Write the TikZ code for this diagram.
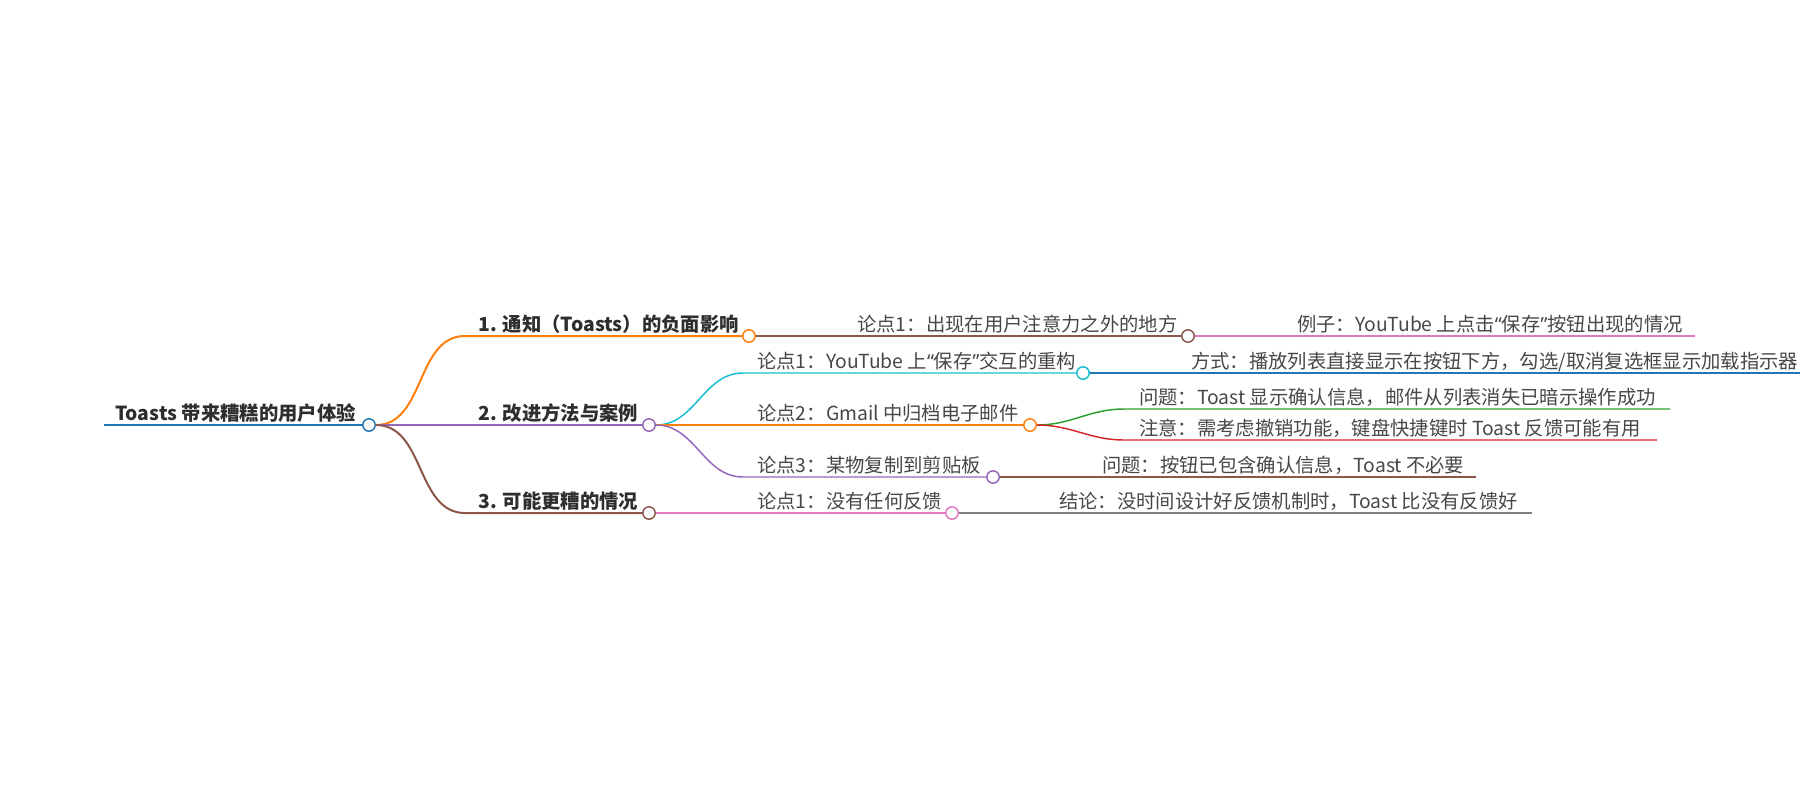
\documentclass[tikz,border=0pt]{standalone}
\usepackage{fontspec}
\setmainfont{Noto Sans CJK SC}
\newfontfamily\quotefont{Noto Sans}
\newcommand{\qopen}{{\quotefont “}}
\newcommand{\qclose}{{\quotefont ”}}
\definecolor{mmblue}{HTML}{1F77B4}
\definecolor{mmorange}{HTML}{FF7F0E}
\definecolor{mmgreen}{HTML}{2CA02C}
\definecolor{mmred}{HTML}{D62728}
\definecolor{mmpurple}{HTML}{9467BD}
\definecolor{mmbrown}{HTML}{8C564B}
\definecolor{mmpink}{HTML}{E377C2}
\definecolor{mmgray}{HTML}{7F7F7F}
\definecolor{mmcyan}{HTML}{17BECF}
\begin{document}
\begin{tikzpicture}[x=0.75pt,y=-0.75pt,
  topic/.style={anchor=base west,inner sep=0pt,font=\fontsize{14.5}{16}\selectfont,text=black!72},
  lead/.style={topic,font=\fontsize{14.5}{16}\selectfont\bfseries,text=black!82},
  dot/.style={circle,draw=#1,fill=white,line width=1.1pt,minimum size=9.3pt,inner sep=0pt},
  link/.style={line width=1.1pt}]
\useasboundingbox (0,0) rectangle (1800,800);
\clip (0,0) rectangle (1800,800);
% root
\coordinate (rootS) at (104,425);
\node[dot=mmblue] (rootC) at (369,425) {};
\node[lead] (root) at (115,420.5) {Toasts 带来糟糕的用户体验};
\draw[mmblue,line width=2.2pt] (rootS) -- (rootC);
% level 1
\coordinate (t1S) at (465,336);
\coordinate (t2S) at (465,425);
\coordinate (t3S) at (465,513);
\node[dot=mmorange] (t1C) at (749,336) {};
\node[dot=mmpurple] (t2C) at (649,425) {};
\node[dot=mmbrown] (t3C) at (649,513) {};
\node[lead] (t1) at (478,331.5) {1. 通知（Toasts）的负面影响};
\node[lead] (t2) at (478,420.5) {2. 改进方法与案例};
\node[lead] (t3) at (478,508.5) {3. 可能更糟的情况};
\draw[mmorange,line width=1.5pt] (rootC) to[out=0,in=180] (t1S) -- (t1C);
\draw[mmpurple,line width=1.5pt] (rootC) to[out=0,in=180] (t2S) -- (t2C);
\draw[mmbrown,line width=1.5pt] (rootC) to[out=0,in=180] (t3S) -- (t3C);
% branch 1
\coordinate (a1S) at (843,336);
\node[dot=mmbrown] (a1C) at (1188,336) {};
\node[topic] (a1) at (857,331.5) {论点1：出现在用户注意力之外的地方};
\draw[mmbrown,link] (t1C) to[out=0,in=180] (a1S) -- (a1C);
\coordinate (a1xS) at (1282,336);
\coordinate (a1xE) at (1695,336);
\node[topic] (a1x) at (1297,331.5) {例子：YouTube 上点击\qopen 保存\qclose 按钮出现的情况};
\draw[mmpink,link] (a1C) to[out=0,in=180] (a1xS) -- (a1xE);
% branch 2
\coordinate (b1S) at (743,373);
\coordinate (b2S) at (743,425);
\coordinate (b3S) at (743,477);
\node[dot=mmcyan] (b1C) at (1083,373) {};
\node[dot=mmorange] (b2C) at (1030,425) {};
\node[dot=mmpurple] (b3C) at (993,477) {};
\node[topic] (b1) at (757,368.5) {论点1：YouTube 上\qopen 保存\qclose 交互的重构};
\node[topic] (b2) at (757,420.5) {论点2：Gmail 中归档电子邮件};
\node[topic] (b3) at (757,472.5) {论点3：某物复制到剪贴板};
\draw[mmcyan,link] (t2C) to[out=0,in=180] (b1S) -- (b1C);
\draw[mmorange,link] (t2C) to[out=0,in=180] (b2S) -- (b2C);
\draw[mmpurple,link] (t2C) to[out=0,in=180] (b3S) -- (b3C);
\coordinate (b1xS) at (1177,373);
\coordinate (b1xE) at (1810,373);
\node[topic] (b1x) at (1191,368.5) {方式：播放列表直接显示在按钮下方，勾选/取消复选框显示加载指示器};
\draw[mmblue,link] (b1C) to[out=0,in=180] (b1xS) -- (b1xE);
\coordinate (b2xS) at (1124,409);
\coordinate (b2xE) at (1670,409);
\coordinate (b2yS) at (1124,440);
\coordinate (b2yE) at (1657,440);
\node[topic] (b2x) at (1139,404.5) {问题：Toast 显示确认信息，邮件从列表消失已暗示操作成功};
\node[topic] (b2y) at (1139,435.5) {注意：需考虑撤销功能，键盘快捷键时 Toast 反馈可能有用};
\draw[mmgreen,link] (b2C) to[out=0,in=180] (b2xS) -- (b2xE);
\draw[mmred,link] (b2C) to[out=0,in=180] (b2yS) -- (b2yE);
\coordinate (b3xS) at (1087,477);
\coordinate (b3xE) at (1476,477);
\node[topic] (b3x) at (1102,472.5) {问题：按钮已包含确认信息，Toast 不必要};
\draw[mmbrown,link] (b3C) to[out=0,in=180] (b3xS) -- (b3xE);
% branch 3
\coordinate (c1S) at (743,513);
\node[dot=mmpink] (c1C) at (952,513) {};
\node[topic] (c1) at (757,508.5) {论点1：没有任何反馈};
\draw[mmpink,link] (t3C) to[out=0,in=180] (c1S) -- (c1C);
\coordinate (c1xS) at (1046,513);
\coordinate (c1xE) at (1532,513);
\node[topic] (c1x) at (1059,508.5) {结论：没时间设计好反馈机制时，Toast 比没有反馈好};
\draw[mmgray,link] (c1C) to[out=0,in=180] (c1xS) -- (c1xE);
\end{tikzpicture}
\end{document}
